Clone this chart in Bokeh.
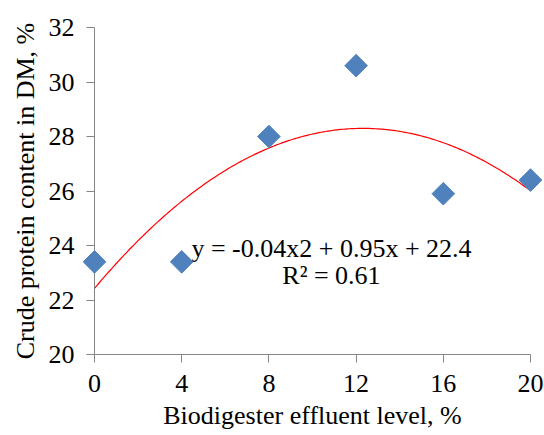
import numpy as np
from bokeh.plotting import figure
from bokeh.models import Range1d, FixedTicker, Label
from bokeh.embed import file_html
from bokeh.resources import INLINE

# Data
levels = [0, 4, 8, 12, 16, 20]
protein = [23.4, 23.4, 28.0, 30.6, 25.9, 26.4]
x_ticks = [0, 4, 8, 12, 16, 20]
y_ticks = [20, 22, 24, 26, 28, 30, 32]
eq_text = "y = -0.04x2 + 0.95x + 22.4"
r2_text = "R² = 0.61"

FONT = "'Liberation Serif'"
TICK_FONT = "Times"
AXIS_COLOR = "#868686"

p = figure(width=544, height=435, output_backend="svg", toolbar_location=None,
           x_range=Range1d(0, 20), y_range=Range1d(20, 32),
           min_border_left=94, min_border_right=14, min_border_top=27, min_border_bottom=81)
p.outline_line_color = None
p.grid.visible = False
p.background_fill_color = "white"
p.border_fill_color = "white"

# Quadratic trendline (least-squares fit of the data)
coef = np.polyfit(levels, protein, 2)
xs = np.linspace(0, 20, 201)
p.line(xs, np.polyval(coef, xs), line_color="#FF0000", line_width=1.2)

# Markers (overlay level so they are not clipped at frame edges)
p.scatter(levels, protein, marker="square", size=16, angle=np.pi / 4,
          fill_color="#4F81BD", line_color="#4F81BD", level="overlay")

for ax in (p.xaxis[0], p.yaxis[0]):
    ax.axis_line_color = AXIS_COLOR
    ax.major_tick_line_color = AXIS_COLOR
    ax.minor_tick_line_color = None
    ax.major_tick_in = 0
    ax.major_tick_out = 8
    ax.major_label_text_font = TICK_FONT
    ax.major_label_text_font_size = "26px"
    ax.major_label_text_font_style = "normal"
    ax.major_label_text_color = "black"
    ax.axis_label_text_font = FONT
    ax.axis_label_text_font_size = "26px"
    ax.axis_label_text_font_style = "normal"
    ax.axis_label_text_color = "black"

p.xaxis.ticker = FixedTicker(ticks=x_ticks)
p.yaxis.ticker = FixedTicker(ticks=y_ticks)
p.xaxis.axis_label = "Biodigester effluent level, %"
p.yaxis.axis_label = "Crude protein content in DM, %"
p.xaxis.major_label_standoff = 12
p.yaxis.major_label_standoff = 12
p.xaxis.axis_label_standoff = 6
p.yaxis.axis_label_standoff = 6

for txt, yv in ((eq_text, 23.89), (r2_text, 22.9)):
    p.add_layout(Label(x=10.87, y=yv, text=txt, text_align="center",
                       text_baseline="alphabetic", text_font=FONT,
                       text_font_size="26px", text_color="black"))

open("out.html", "w").write(file_html(p, INLINE))
